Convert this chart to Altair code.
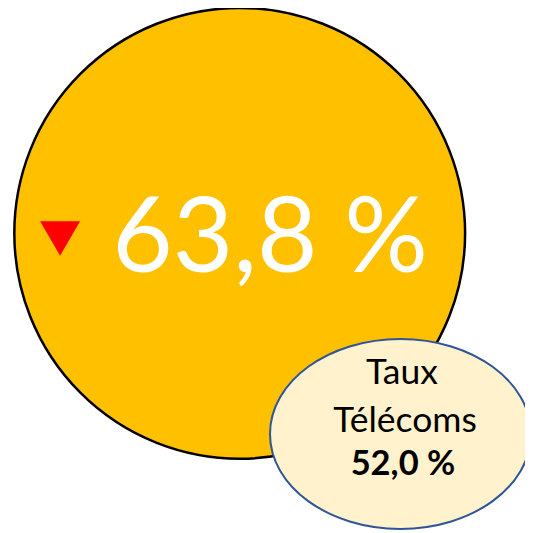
import altair as alt
import pandas as pd

# --- values ---
main_value = ["63,8 %"]
trend = ["down"]
compare_label = ["Taux", "Télécoms"]
compare_value = ["52,0 %"]

# --- layout (screen coordinates of the 533x533 picture) ---
W = 525
S = 533.0 / (W + 16)          # page is shrunk to fit the 533px window
DY = 4                        # vertical offset of the page in the window
big = pd.DataFrame({"x": [239.7], "y": [233.3]})
small = pd.DataFrame({"x": [400.5], "y": [434]})
arrow = pd.DataFrame({"x": [60], "y": [238.5], "t": trend})
main_txt = pd.DataFrame({"x": [270], "y": [272], "t": main_value})
lbl_txt = pd.DataFrame({"x": [402, 405], "y": [384, 432], "t": compare_label})
val_txt = pd.DataFrame({"x": [403], "y": [475], "t": compare_value})

X = alt.X("x:Q", scale=alt.Scale(domain=[8 * S, (W + 8) * S]), axis=None)
Y = alt.Y("y:Q", scale=alt.Scale(domain=[8 * S + DY, (W + 8) * S + DY], reverse=True),
          axis=None)

ry = 190 / 261
k = 0.5523
ellipse_path = (f"M -1 0 C -1 {-ry*k:.4f} {-k} {-ry:.4f} 0 {-ry:.4f} "
                f"C {k} {-ry:.4f} 1 {-ry*k:.4f} 1 0 "
                f"C 1 {ry*k:.4f} {k} {ry:.4f} 0 {ry:.4f} "
                f"C {-k} {ry:.4f} -1 {ry*k:.4f} -1 0 Z")

c_big = alt.Chart(big).mark_point(
    shape="circle", filled=True, fill="#FFC000", stroke="#000000",
    strokeWidth=2.5 / S, opacity=1, fillOpacity=1, strokeOpacity=1
).encode(x=X, y=Y, size=alt.value((451 / S) ** 2))

c_arrow = alt.Chart(arrow).mark_point(
    shape="triangle-down", filled=True, fill="#FF0000", strokeWidth=0,
    opacity=1, fillOpacity=1
).encode(x=X, y=Y, size=alt.value((40 / S) ** 2))

c_main = alt.Chart(main_txt).mark_text(
    font="Lato", fontSize=106, color="#FFFFFF", align="center",
    baseline="alphabetic"
).encode(x=X, y=Y, text="t:N")

c_small = alt.Chart(small).mark_point(
    shape=ellipse_path, filled=True, fill="#FFF2CC", stroke="#2F5597",
    strokeWidth=2 / S, opacity=1, fillOpacity=1, strokeOpacity=1
).encode(x=X, y=Y, size=alt.value((261 / S) ** 2))

c_lbl = alt.Chart(lbl_txt).mark_text(
    font="Lato", fontSize=36, color="#000000", align="center",
    baseline="alphabetic"
).encode(x=X, y=Y, text="t:N")

c_val = alt.Chart(val_txt).mark_text(
    font="Lato", fontSize=35, fontWeight="bold", color="#000000",
    align="center", baseline="alphabetic"
).encode(x=X, y=Y, text="t:N")

chart = alt.layer(c_big, c_arrow, c_main, c_small, c_lbl, c_val).properties(
    width=W, height=W, padding=0, autosize=alt.AutoSizeParams(type="none")
).configure_view(stroke=None)

chart.save("out.html", embed_options={"renderer": "svg", "actions": False})
